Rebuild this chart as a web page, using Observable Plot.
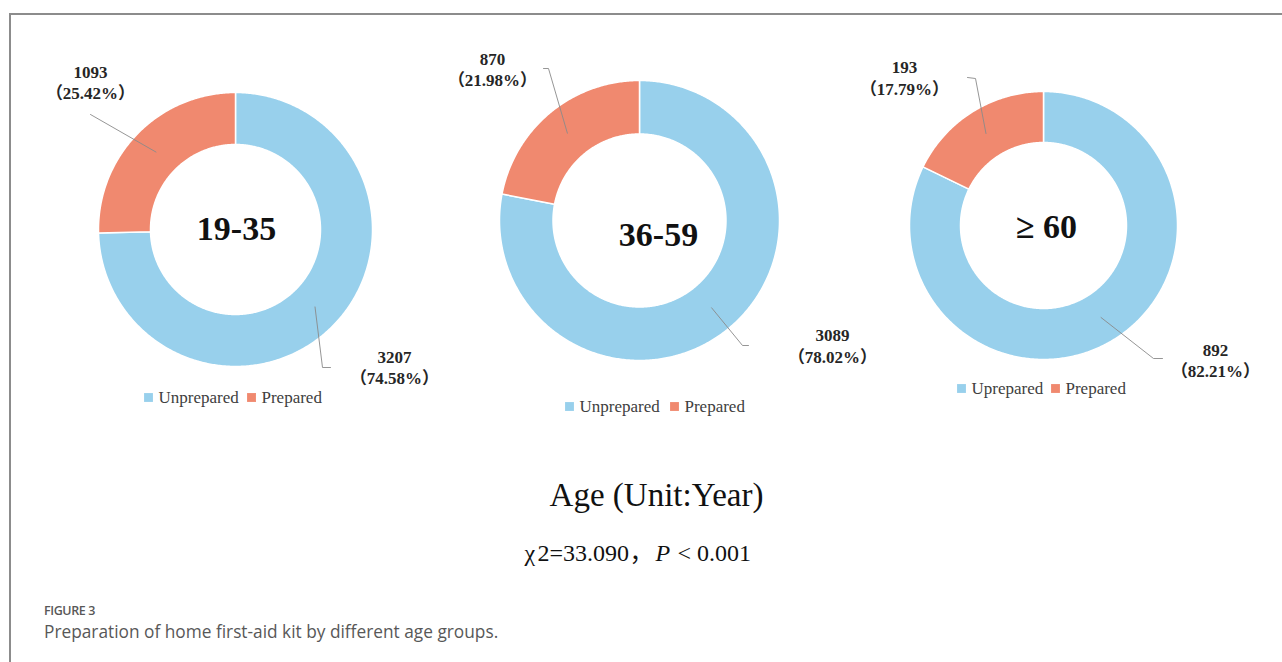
<!DOCTYPE html>
<html>
<head>
<meta charset="utf-8">
<script src="https://cdn.jsdelivr.net/npm/d3@7"></script>
<script src="https://cdn.jsdelivr.net/npm/@observablehq/plot@0.6"></script>
<style>
  html, body { margin: 0; padding: 0; background: #fff; }
  #fig { position: relative; width: 1282px; height: 662px; overflow: hidden; }
  #frame { position: absolute; left: 9px; top: 13px; right: -10px; bottom: -10px;
           border-left: 2px solid #8c8c8c; border-top: 2px solid #8c8c8c; }
  #chart { position: absolute; left: 0; top: 0; }
  #cap { position: absolute; left: 44px; top: 602px; font-family: "Open Sans", sans-serif; color: #585858; }
  #cap .num { font-size: 12.5px; font-weight: 600; letter-spacing: -0.4px; line-height: 18px; }
  #cap .txt { font-size: 17.3px; font-weight: 400; line-height: 24px; }
</style>
</head>
<body>
<div id="fig">
  <div id="frame"></div>
  <div id="chart"></div>
  <div id="cap">
    <div class="num">FIGURE 3</div>
    <div class="txt">Preparation of home first-aid kit by different age groups.</div>
  </div>
</div>
<script>
// ---- data ----
const groups      = ["19-35", "36-59", "≥ 60"];
const statuses    = ["Unprepared", "Prepared"];
const unprepared  = [3207, 3089, 892];
const prepared    = [1093, 870, 193];
const legendNames = [["Unprepared", "Prepared"], ["Unprepared", "Prepared"], ["Uprepared", "Prepared"]];
const axisTitle   = "Age (Unit:Year)";
const statParts   = ["χ", "2=33.090", "，", "P", "< 0.001"];

// ---- layout (pixels) ----
const W = 1282, H = 580;
const colors = ["#98d0ec", "#f0896f"];
const cx = [235, 639, 1043], cy = [229, 220, 225];
const rOut = [137, 140, 134], rIn = [85, 86.5, 83];
const centerPos = [[236, 229], [658, 235], [1046, 227]];
// label anchor positions [unprepared, prepared] : [x, yValue, yPct]
const labelPos = [
  [[394, 357, 378], [90, 72, 93]],
  [[832, 335, 357], [492, 59, 80]],
  [[1215, 350, 371], [904, 67, 89]]
];
// leader line elbows [unprepared, prepared]: points after the slice centroid
const leaderEnds = [
  [[[322, 367], [330, 367]], [[90, 114]]],
  [[[742, 345], [748, 345]], [[548, 68], [543, 68]]],
  [[[1153, 358], [1162, 358]], [[975, 78], [967, 77]]]
];
const legendY = [397, 406, 388];
const legendX = [[148, 251], [569, 674], [961, 1055]];
const statX = [524, 537, 629, 655, 677];

// ---- build tables ----
const sliceRows = [], leaderRows = [], valueLabels = [], pctLabels = [], centerLabels = [], legendRows = [];
const fmtPct = d3.format(".2%");
groups.forEach((g, i) => {
  const vals = [unprepared[i], prepared[i]];
  const total = d3.sum(vals);
  const arcs = d3.pie().sort(null).startAngle(0).endAngle(2 * Math.PI)(vals);
  arcs.forEach((a, k) => {
    const id = g + "|" + statuses[k];
    const n = Math.max(4, Math.ceil((a.endAngle - a.startAngle) / 0.01));
    for (let j = 0; j <= n; j++) {
      const t = a.startAngle + (a.endAngle - a.startAngle) * j / n;
      sliceRows.push({id, status: statuses[k], x: cx[i] + rOut[i] * Math.sin(t), y: cy[i] - rOut[i] * Math.cos(t)});
    }
    for (let j = n; j >= 0; j--) {
      const t = a.startAngle + (a.endAngle - a.startAngle) * j / n;
      sliceRows.push({id, status: statuses[k], x: cx[i] + rIn[i] * Math.sin(t), y: cy[i] - rIn[i] * Math.cos(t)});
    }
    const mid = (a.startAngle + a.endAngle) / 2, rm = (rOut[i] + rIn[i]) / 2;
    leaderRows.push({id, x: cx[i] + rm * Math.sin(mid), y: cy[i] - rm * Math.cos(mid)});
    leaderEnds[i][k].forEach(p => leaderRows.push({id, x: p[0], y: p[1]}));
    const lp = labelPos[i][k];
    valueLabels.push({x: lp[0], y: lp[1], text: String(vals[k])});
    pctLabels.push({x: lp[0], y: lp[2], text: "（" + fmtPct(vals[k] / total) + "）"});
    legendRows.push({x: legendX[i][k], y: legendY[i], status: statuses[k], label: legendNames[i][k]});
  });
  centerLabels.push({x: centerPos[i][0], y: centerPos[i][1], text: g});
});
const statRows = statParts.map((t, i) => ({x: statX[i], text: t, italic: t === "P"}));

const serif = "'Liberation Serif', 'Times New Roman', 'Noto Sans CJK SC', serif";

const chart = Plot.plot({
  width: W, height: H,
  margin: 0,
  x: {domain: [0, W], range: [0, W], axis: null},
  y: {domain: [0, H], range: [0, H], axis: null},
  color: {domain: statuses, range: colors},
  style: {background: "transparent", fontFamily: serif},
  marks: [
    Plot.line(sliceRows, {x: "x", y: "y", z: "id", fill: "status", stroke: "white", strokeWidth: 1.5, curve: "linear-closed"}),
    Plot.line(leaderRows, {x: "x", y: "y", z: "id", stroke: "#8a8a8a", strokeWidth: 0.9, curve: "linear"}),
    Plot.text(centerLabels, {x: "x", y: "y", text: "text", fontSize: 34, fontWeight: "bold", fill: "#111", fontFamily: serif}),
    Plot.text(valueLabels, {x: "x", y: "y", text: "text", fontSize: 17, fontWeight: "bold", fill: "#262626", fontFamily: serif}),
    Plot.text(pctLabels, {x: "x", y: "y", text: "text", fontSize: 17, fontWeight: "bold", fill: "#262626", fontFamily: serif}),
    Plot.dot(legendRows, {x: "x", y: "y", fill: "status", symbol: "square", r: 5}),
    Plot.text(legendRows, {x: d => d.x + 10, y: "y", text: "label", textAnchor: "start", fontSize: 17, fill: "#404040", fontFamily: serif}),
    Plot.text([axisTitle], {x: () => 656, y: () => 495, text: d => d, fontSize: 33, fill: "#111", fontFamily: serif}),
    Plot.text(statRows.filter(d => !d.italic), {x: "x", y: () => 553, text: "text", textAnchor: "start", fontSize: 24, fill: "#111", fontFamily: serif}),
    Plot.text(statRows.filter(d => d.italic), {x: "x", y: () => 553, text: "text", textAnchor: "start", fontSize: 24, fontStyle: "italic", fill: "#111", fontFamily: serif})
  ]
});
document.getElementById("chart").appendChild(chart);
</script>
</body>
</html>
